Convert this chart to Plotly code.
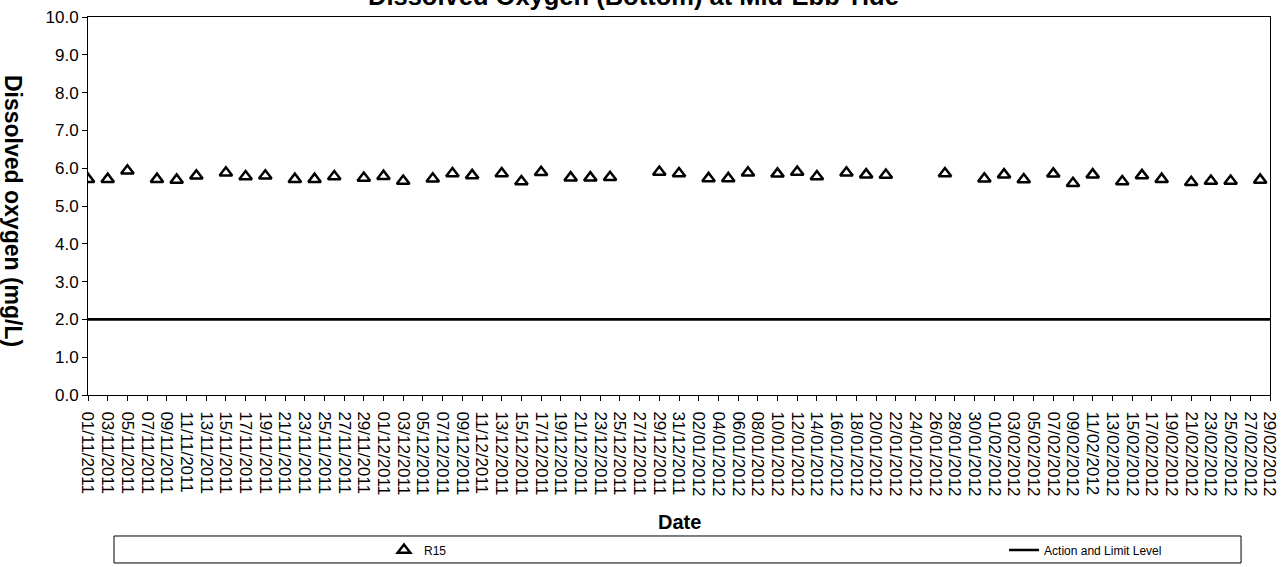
import plotly.graph_objects as go

# ---- data ----
dates = [
    "2011-11-01", "2011-11-03", "2011-11-05", "2011-11-08", "2011-11-10", "2011-11-12",
    "2011-11-15", "2011-11-17", "2011-11-19", "2011-11-22", "2011-11-24", "2011-11-26",
    "2011-11-29", "2011-12-01", "2011-12-03", "2011-12-06", "2011-12-08", "2011-12-10",
    "2011-12-13", "2011-12-15", "2011-12-17", "2011-12-20", "2011-12-22", "2011-12-24",
    "2011-12-29", "2011-12-31", "2012-01-03", "2012-01-05", "2012-01-07", "2012-01-10",
    "2012-01-12", "2012-01-14", "2012-01-17", "2012-01-19", "2012-01-21", "2012-01-27",
    "2012-01-31", "2012-02-02", "2012-02-04", "2012-02-07", "2012-02-09", "2012-02-11",
    "2012-02-14", "2012-02-16", "2012-02-18", "2012-02-21", "2012-02-23", "2012-02-25",
    "2012-02-28",
]
r15_values = [
    5.71, 5.71, 5.93, 5.71, 5.69, 5.80,
    5.88, 5.78, 5.80, 5.71, 5.71, 5.78,
    5.74, 5.79, 5.66, 5.72, 5.86, 5.81,
    5.86, 5.65, 5.89, 5.75, 5.75, 5.76,
    5.90, 5.86, 5.73, 5.73, 5.88, 5.85,
    5.90, 5.78, 5.88, 5.83, 5.82, 5.86,
    5.72, 5.83, 5.70, 5.85, 5.60, 5.83,
    5.65, 5.81, 5.71, 5.63, 5.66, 5.66,
    5.69,
]
limit_dates = ["2011-11-01", "2012-02-29"]
limit_values = [2.0, 2.0]

title_text = "Dissolved Oxygen (Bottom) at Mid-Ebb Tide"
x_title = "Date"
y_title = "Dissolved oxygen (mg/L)"

FONT = "Liberation Sans, Arial, sans-serif"

fig = go.Figure()
fig.add_trace(go.Scatter(
    x=dates, y=r15_values, mode="markers", name="R15", legend="legend",
    marker=dict(symbol="triangle-up-open", size=11, color="black",
                line=dict(color="black", width=2.5)),
))
fig.add_trace(go.Scatter(
    x=limit_dates, y=limit_values, mode="lines", name="Action and Limit Level",
    legend="legend2",
    line=dict(color="black", width=2.7),
))

legend_common = dict(
    orientation="h", yanchor="middle", y=-0.41, xanchor="left",
    font=dict(size=12, family=FONT), bgcolor="rgba(0,0,0,0)", borderwidth=0,
)

fig.update_layout(
    width=1286, height=567,
    margin=dict(l=88, r=16, t=17, b=172, autoexpand=False),
    paper_bgcolor="white", plot_bgcolor="white",
    font=dict(family=FONT, color="black"),
    showlegend=True,
    legend=dict(x=0.2504, **legend_common),
    legend2=dict(x=0.775, **legend_common),
    xaxis=dict(
        type="date", range=["2011-11-01", "2012-02-29"],
        tick0="2011-11-01", dtick=2 * 86400000, tickformat="%d/%m/%Y",
        tickangle=90, ticks="outside", ticklen=5, tickcolor="black",
        tickfont=dict(size=17, family=FONT), ticklabelstandoff=7,
        showgrid=False, zeroline=False, automargin=False,
        showline=True, linecolor="black", linewidth=1, mirror=True,
    ),
    yaxis=dict(
        range=[0, 10], dtick=1, tick0=0, tickformat=".1f",
        ticks="outside", ticklen=5, tickcolor="black",
        tickfont=dict(size=17, family=FONT),
        showgrid=False, zeroline=False, automargin=False,
        showline=True, linecolor="black", linewidth=1, mirror=True,
    ),
    shapes=[dict(
        type="rect", xref="paper", yref="paper",
        x0=0.022, x1=0.9755, y0=-0.4444, y1=-0.373,
        line=dict(color="black", width=1), fillcolor="rgba(0,0,0,0)",
    )],
    annotations=[
        dict(text="<b>" + title_text + "</b>", xref="paper", yref="paper",
             x=0.4615, y=1.012, xanchor="center", yanchor="bottom",
             showarrow=False, font=dict(size=25.5, family=FONT)),
        dict(text="<b>" + x_title + "</b>", xref="paper", yref="paper",
             x=0.5, y=-0.336, xanchor="center", yanchor="middle",
             showarrow=False, font=dict(size=20, family=FONT)),
        dict(text="<b>" + y_title + "</b>", xref="paper", yref="paper",
             x=-0.0635, y=0.487, xanchor="center", yanchor="middle",
             textangle=90, showarrow=False, font=dict(size=23, family=FONT)),
    ],
)

fig.write_html(
    "out.html",
    config={"displayModeBar": False},
    post_script="document.body.style.margin='0';document.body.style.padding='0';",
)
